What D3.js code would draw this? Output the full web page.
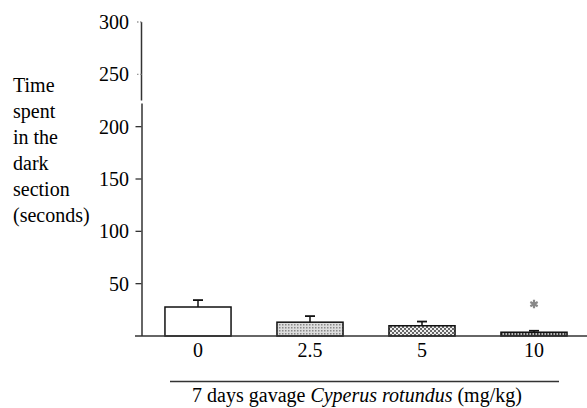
<html>
  <head>
    <meta charset="utf-8">
    <script src="https://d3js.org/d3.v7.min.js"></script>
    <style>
      body { margin: 0; background: #fff; }
      svg text, svg tspan { font-family: "Liberation Serif", Tinos, "Times New Roman", serif !important; }
    </style>
  </head>
  <body style="margin:0">
    <script>
      var w = 587;
      var h = 408;
      var doses = ["0", "2.5", "5", "10"];
      var means = [27.7, 13.2, 9.8, 3.6];
      var errors = [6.6, 5.8, 4.0, 1.4];
      var stars = [null, null, null, 30.5];
      var yTicks = [50, 100, 150, 200, 250, 300];
      var yLabel = ["Time", "spent", "in the", "dark", "section", "(seconds)"];
      var serif = "Liberation Serif, Tinos, Times New Roman, serif";

      var xScale = d3.scaleBand()
                     .domain(doses)
                     .range([142, 590])
                     .paddingInner(0.41)
                     .paddingOuter(0.205);
      var yScale = d3.scaleLinear()
                     .domain([0, 300])
                     .range([336, 22]);

      var svg = d3.select("body")
                  .append("svg")
                  .attr("width", w)
                  .attr("height", h)
                  .attr("font-family", serif);

      // fill patterns
      var defs = svg.append("defs");
      var p1 = defs.append("pattern").attr("id", "dots").attr("width", 3).attr("height", 3)
                   .attr("patternUnits", "userSpaceOnUse");
      p1.append("rect").attr("width", 3).attr("height", 3).attr("fill", "#ddd");
      p1.append("rect").attr("width", 1.5).attr("height", 1.5).attr("fill", "#888");
      var p2 = defs.append("pattern").attr("id", "checks").attr("width", 4).attr("height", 4)
                   .attr("patternUnits", "userSpaceOnUse");
      p2.append("rect").attr("width", 4).attr("height", 4).attr("fill", "#eee");
      p2.append("rect").attr("width", 2).attr("height", 2).attr("fill", "#666");
      p2.append("rect").attr("x", 2).attr("y", 2).attr("width", 2).attr("height", 2).attr("fill", "#666");
      var p3 = defs.append("pattern").attr("id", "stripes").attr("width", 3).attr("height", 3)
                   .attr("patternUnits", "userSpaceOnUse");
      p3.append("rect").attr("width", 3).attr("height", 3).attr("fill", "#bbb");
      p3.append("rect").attr("width", 1.5).attr("height", 3).attr("fill", "#333");
      var fills = ["#fff", "url(#dots)", "url(#checks)", "url(#stripes)"];

      // bars
      svg.selectAll("rect.bar")
         .data(means)
         .enter()
         .append("rect")
         .attr("class", "bar")
         .attr("x", function (d, i) { return xScale(doses[i]); })
         .attr("y", function (d) { return yScale(d); })
         .attr("width", xScale.bandwidth())
         .attr("height", function (d) { return yScale(0) - yScale(d); })
         .attr("fill", function (d, i) { return fills[i]; })
         .attr("stroke", "#111")
         .attr("stroke-width", 1.5);

      // error bars
      means.forEach(function (m, i) {
          var cx = xScale(doses[i]) + xScale.bandwidth() / 2;
          var errTop = yScale(m + errors[i]);
          svg.append("line")
             .attr("x1", cx).attr("x2", cx)
             .attr("y1", yScale(m)).attr("y2", errTop)
             .style("stroke", "#111").attr("stroke-width", 1.5);
          svg.append("line")
             .attr("x1", cx - 5).attr("x2", cx + 5)
             .attr("y1", errTop).attr("y2", errTop)
             .style("stroke", "#111").attr("stroke-width", 1.8);
          if (stars[i] != null) {
              svg.append("path")
                 .attr("d", d3.symbol(d3.symbolAsterisk, 50)())
                 .attr("transform", `translate(${cx}, ${yScale(stars[i])})`)
                 .style("stroke", "#888").attr("stroke-width", 2.2);
          }
      });

      // y axis with break
      var axisX = 141.5;
      svg.append("line").attr("x1", axisX).attr("x2", axisX)
         .attr("y1", yScale(300)).attr("y2", 100.5)
         .style("stroke", "#333").attr("stroke-width", 1.5);
      svg.append("line").attr("x1", axisX + 0.5).attr("x2", axisX + 0.5)
         .attr("y1", 103.5).attr("y2", yScale(0))
         .style("stroke", "#333").attr("stroke-width", 1.5);
      yTicks.forEach(function (t) {
          var light = t > 200;
          svg.append("line")
             .attr("x1", light ? 137 : 135.5).attr("x2", axisX)
             .attr("y1", yScale(t)).attr("y2", yScale(t))
             .style("stroke", light ? "#999" : "#333")
             .style("stroke-dasharray", light ? "1.5,1.5" : null)
             .attr("stroke-width", 1.3);
          svg.append("text")
             .attr("x", 129)
             .attr("y", yScale(t) + 7)
             .attr("text-anchor", "end")
             .attr("font-family", serif)
             .style("font-size", "20px")
             .text(t);
      });

      // x baseline and labels
      svg.append("line").attr("x1", 135).attr("x2", w)
         .attr("y1", yScale(0)).attr("y2", yScale(0))
         .style("stroke", "#333").attr("stroke-width", 1.5);
      svg.selectAll("text.xlab")
         .data(doses)
         .enter()
         .append("text")
         .attr("class", "xlab")
         .attr("x", function (d) { return xScale(d) + xScale.bandwidth() / 2; })
         .attr("y", 357)
         .attr("text-anchor", "middle")
         .attr("font-family", serif)
         .style("font-size", "20px")
         .text(function (d) { return d; });

      // x title with rule above
      svg.append("line").attr("x1", 170).attr("x2", 559)
         .attr("y1", 381.5).attr("y2", 381.5)
         .style("stroke", "#333").attr("stroke-width", 1.5);
      var title = svg.append("text")
                     .attr("x", 357)
                     .attr("y", 402)
                     .attr("text-anchor", "middle")
                     .attr("font-family", serif)
                     .style("font-size", "20px");
      title.append("tspan").text("7 days gavage ");
      title.append("tspan").style("font-style", "italic").text("Cyperus rotundus");
      title.append("tspan").text(" (mg/kg)");

      // y label
      svg.append("text")
         .attr("x", 13)
         .attr("y", 92)
         .attr("font-family", serif)
         .style("font-size", "20px")
         .selectAll("tspan")
         .data(yLabel)
         .enter()
         .append("tspan")
         .attr("x", 13)
         .attr("dy", function (d, i) { return i == 0 ? 0 : 26; })
         .text(function (d) { return d; });
    </script>
  </body>
</html>
